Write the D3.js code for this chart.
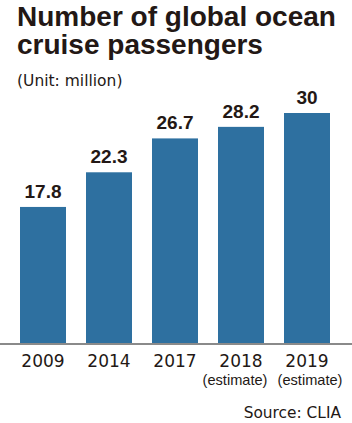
<!DOCTYPE html>
<html>
<head>
    <script src="https://d3js.org/d3.v7.min.js"></script>
    <style>
        body { margin: 0; background: #fff; }
        text { font-family: "DejaVu Sans", sans-serif; fill: #231815; }
        .bold { font-family: "Liberation Sans", Arial, sans-serif; font-weight: bold; }
        .note { font-family: "Liberation Sans", Arial, sans-serif; }
    </style>
</head>
<body>
    <svg id="chart" width="352" height="423"></svg>
    <script>
        const years = ["2009", "2014", "2017", "2018", "2019"];
        const notes = ["", "", "", "(estimate)", "(estimate)"];
        const passengers = [17.8, 22.3, 26.7, 28.2, 30];

        const svg = d3.select("#chart");
        const baseY = 344;

        const x = d3.scaleBand()
            .domain(years)
            .range([10, 340])
            .paddingInner(20 / 66)
            .paddingOuter(10 / 66);

        const y = d3.scaleLinear()
            .domain([0, 30])
            .range([baseY, 113]);

        // title
        svg.append("text").attr("class", "bold").attr("x", 17).attr("y", 26)
            .style("font-size", "28px")
            .text("Number of global ocean");
        svg.append("text").attr("class", "bold").attr("x", 17).attr("y", 54)
            .style("font-size", "28px")
            .text("cruise passengers");
        svg.append("text").attr("x", 17).attr("y", 86)
            .style("font-size", "15.5px")
            .text("(Unit: million)");

        svg.selectAll("rect.bar")
            .data(passengers)
            .enter()
            .append("rect")
            .attr("class", "bar")
            .attr("x", (d, i) => x(years[i]))
            .attr("y", d => y(d))
            .attr("width", x.bandwidth())
            .attr("height", d => baseY - y(d))
            .attr("fill", "#2e70a0");

        svg.selectAll("text.val")
            .data(passengers)
            .enter()
            .append("text")
            .attr("class", "val bold")
            .attr("x", (d, i) => x(years[i]) + x.bandwidth() / 2)
            .attr("y", d => y(d) - 9)
            .attr("text-anchor", "middle")
            .style("font-size", "19px")
            .text(d => d);

        svg.append("line")
            .attr("x1", 0).attr("x2", 352)
            .attr("y1", baseY).attr("y2", baseY)
            .attr("stroke", "#8a8a8a").attr("stroke-width", 2);

        const xAxis = svg.append("g");
        xAxis.selectAll("text.year")
            .data(years)
            .enter()
            .append("text")
            .attr("class", "year")
            .attr("x", d => x(d) + x.bandwidth() / 2)
            .attr("y", 366.5)
            .attr("text-anchor", "middle")
            .style("font-size", "17px")
            .text(d => d);
        // the two "(estimate)" notes sit a little apart so they don't collide
        xAxis.selectAll("text.note")
            .data(notes)
            .enter()
            .append("text")
            .attr("class", "note")
            .attr("x", (d, i) => x(years[i]) + x.bandwidth() / 2 + (i === 3 ? -6 : 3))
            .attr("y", 384.5)
            .attr("text-anchor", "middle")
            .style("font-size", "14.6px")
            .text(d => d);

        svg.append("text").attr("x", 341).attr("y", 418)
            .attr("text-anchor", "end")
            .style("font-size", "15.4px")
            .text("Source: CLIA");
    </script>
</body>
</html>
